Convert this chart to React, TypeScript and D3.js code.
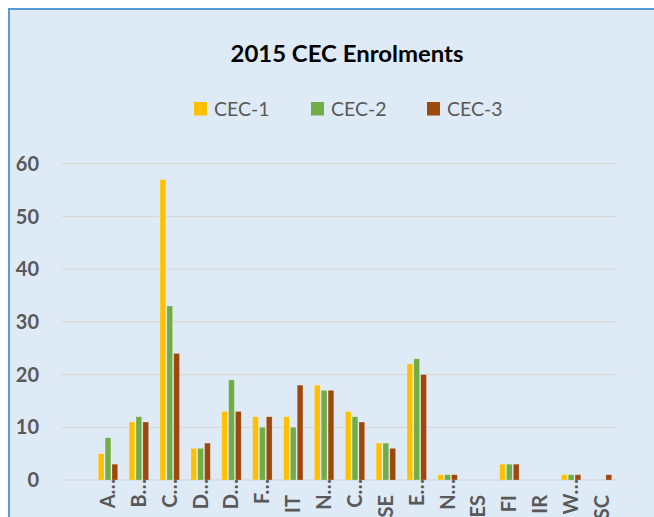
import React from "react";
import * as d3 from "d3";

const categories: string[] = ["", "A…", "B…", "C…", "D…", "D…", "F…", "IT", "N…", "C…", "SE", "E…", "N…", "ES", "FI", "IR", "W…", "SC"];
const seriesNames: string[] = ["CEC-1", "CEC-2", "CEC-3"];
const cec1: number[] = [0, 5, 11, 57, 6, 13, 12, 12, 18, 13, 7, 22, 1, 0, 3, 0, 1, 0];
const cec2: number[] = [0, 8, 12, 33, 6, 19, 10, 10, 17, 12, 7, 23, 1, 0, 3, 0, 1, 0];
const cec3: number[] = [0, 3, 11, 24, 7, 13, 12, 18, 17, 11, 6, 20, 1, 0, 3, 0, 1, 1];
const yTicks: number[] = [0, 10, 20, 30, 40, 50, 60];
const colors: string[] = ["#FFC000", "#70AD47", "#9E480E"];

const W = 654;
const H = 517;
const FONT = "Lato, 'Open Sans', sans-serif";

export default function App() {
  const seriesValues = [cec1, cec2, cec3];
  const x = d3
    .scaleBand<number>()
    .domain(d3.range(categories.length))
    .range([61.7, 617.4])
    .padding(0);
  const x1 = d3.scaleBand<string>().domain(seriesNames).range([-9.7, 9.7]).paddingInner(0.165).paddingOuter(0);
  const y = d3.scaleLinear().domain([0, 60]).range([480, 163.7]);

  const legendX = [194, 311, 427];

  return (
    <svg width={W} height={H} style={{ position: "absolute", left: 0, top: 0 }} fontFamily={FONT}>
      <rect x={0} y={0} width={W} height={H} fill="#ffffff" />
      <rect x={9} y={9} width={W + 20} height={H + 20} fill="#DEEAF6" stroke="#5B9BD5" strokeWidth={2} />
      <text
        x={230.5}
        y={62.3}
        fontSize={22.5}
        fontWeight="bold"
        fill="#000000"
        textLength={233}
        lengthAdjust="spacingAndGlyphs"
      >
        2015 CEC Enrolments
      </text>
      {seriesNames.map((s, i) => (
        <g key={s}>
          <rect x={legendX[i]} y={102} width={13} height={13.5} fill={colors[i]} />
          <text x={legendX[i] + 20} y={115.7} fontSize={19.5} fill="#595959">
            {s}
          </text>
        </g>
      ))}
      {yTicks.map((t) => (
        <g key={t}>
          <line x1={61.7} x2={617.4} y1={y(t)} y2={y(t)} stroke="#D9D9D9" strokeWidth={1.3} />
          <text x={39} y={y(t)} dy="0.36em" textAnchor="end" fontSize={20} fontWeight="bold" fill="#595959">
            {t}
          </text>
        </g>
      ))}
      {seriesValues.map((vals, si) =>
        vals.map((v, ci) =>
          v > 0 ? (
            <rect
              key={`${si}-${ci}`}
              x={(x(ci) as number) + x.bandwidth() / 2 + (x1(seriesNames[si]) as number)}
              y={y(v)}
              width={x1.bandwidth()}
              height={y(0) - y(v)}
              fill={colors[si]}
              stroke="rgba(255,255,255,0.35)"
              strokeWidth={0.6}
            />
          ) : null
        )
      )}
      {categories.map((c, ci) => {
        if (!c) return null;
        const cx = (x(ci) as number) + x.bandwidth() / 2;
        const truncated = c.endsWith("…");
        const ty = truncated ? 479 : 495;
        return (
          <text
            key={ci}
            transform={`translate(${cx + 7},${ty}) rotate(-90)`}
            textAnchor="end"
            fontSize={20}
            fontWeight="bold"
            fill="#595959"
          >
            {c}
          </text>
        );
      })}
    </svg>
  );
}
